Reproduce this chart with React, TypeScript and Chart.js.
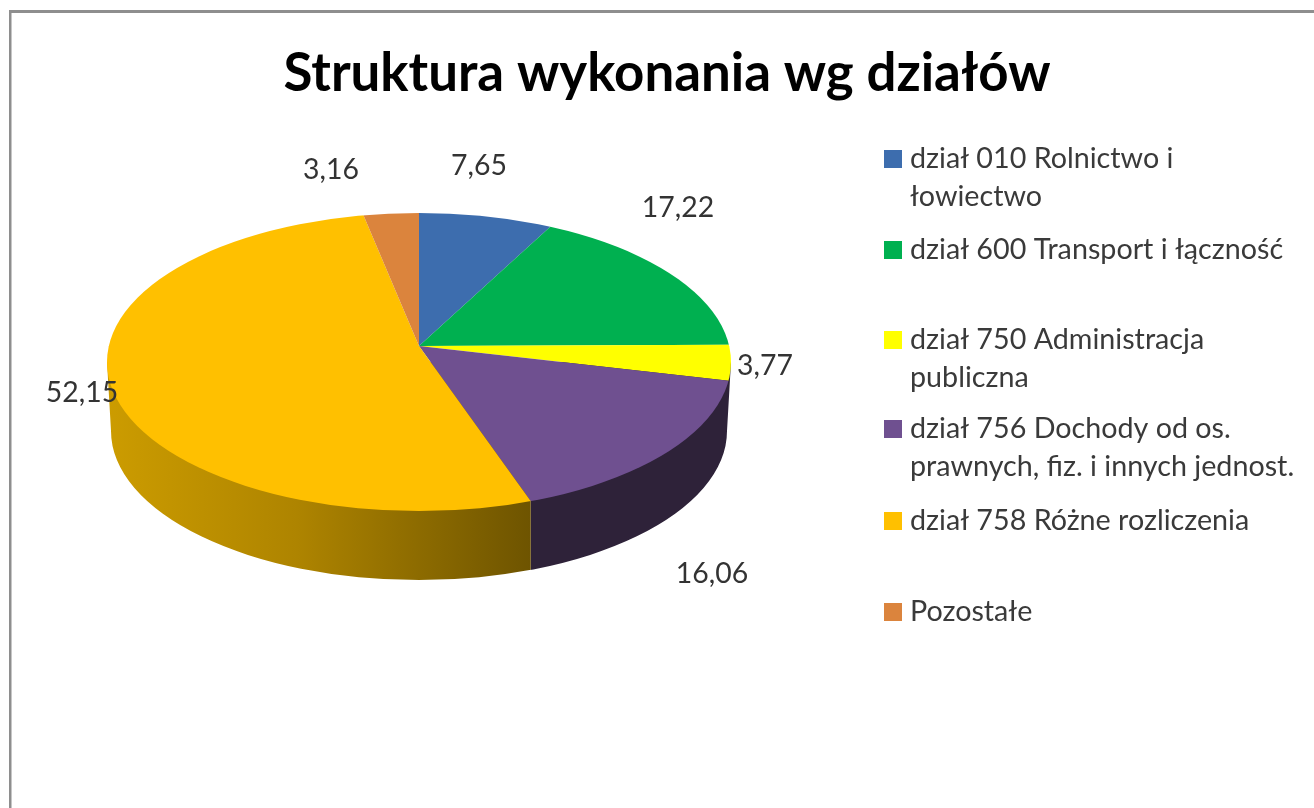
import React, { useEffect, useRef } from "react";
import { Chart, registerables } from "chart.js";

Chart.register(...registerables);

const titleText = "Struktura wykonania wg działów";
const categories = [
  ["dział 010 Rolnictwo i", "łowiectwo"],
  ["dział 600 Transport i łączność"],
  ["dział 750 Administracja", "publiczna"],
  ["dział 756 Dochody od os.", "prawnych, fiz. i innych jednost."],
  ["dział 758 Różne rozliczenia"],
  ["Pozostałe"],
];
const values = [7.65, 17.22, 3.77, 16.06, 52.15, 3.16];
const valueLabels = ["7,65", "17,22", "3,77", "16,06", "52,15", "3,16"];

const sliceColors = ["#3D6DAE", "#00B050", "#FFFF00", "#6F5090", "#FFC000", "#DB843D"];
const wallColors: (string | null)[] = [null, null, null, "#2E2239", "gradient", null];
const legendY = [159, 250, 340, 429, 521, 612];
const labelXY = [[479, 166], [678, 208], [765, 366], [712, 574], [82, 393], [331, 170]];

const W = 1314;
const H = 808;
const CX = 419;
const CY = 346;
const R = 312;
const FONT = "Lato, Carlito, sans-serif";
// outline of the perspective disc
const RIM = { cy: 362, rx: 312, ry: 149 };
const BASE = { cy: 431, rx: 308, ry: 149 };
const OVER = 1.2;
const UPPER = { sx: 0.9, sy: 133 / 312 };
const LOWER = { sx: 1.1, sy: 165 / 312 };

function boundaryX(angle: number) {
  const dx = R * LOWER.sx * Math.cos(angle);
  const dy = R * LOWER.sy * Math.sin(angle);
  const off = CY - RIM.cy;
  const a = (dx * dx) / (RIM.rx * RIM.rx) + (dy * dy) / (RIM.ry * RIM.ry);
  const b = (2 * dy * off) / (RIM.ry * RIM.ry);
  const c = (off * off) / (RIM.ry * RIM.ry) - 1;
  const t = (-b + Math.sqrt(b * b - 4 * a * c)) / (2 * a);
  return CX + dx * t;
}

const pie3d = {
  id: "pie3d",
  beforeDraw(chart: any) {
    const ctx = chart.ctx;
    ctx.save();
    ctx.fillStyle = "#fff";
    ctx.fillRect(0, 0, W, H);
    ctx.fillStyle = "#8E8E8E";
    ctx.fillRect(9, 10, W - 9, 3);
    ctx.fillRect(9, 10, 2.5, H - 10);
    ctx.restore();
  },
  beforeDatasetsDraw(chart: any) {
    const ctx = chart.ctx;
    const arcs = chart.getDatasetMeta(0).data;

    arcs.forEach((el: any, i: number) => {
      const shade = wallColors[i];
      if (!shade) return;
      const right = wallColors[i - 1] ? boundaryX(el.startAngle) : W;
      const left = wallColors[i + 1] ? boundaryX(el.endAngle) : 0;
      ctx.save();
      ctx.beginPath();
      ctx.rect(left, 0, right - left, H);
      ctx.clip();
      ctx.beginPath();
      ctx.moveTo(CX - RIM.rx, RIM.cy);
      ctx.lineTo(CX - BASE.rx, BASE.cy);
      ctx.ellipse(CX, BASE.cy, BASE.rx, BASE.ry, 0, Math.PI, 0, true);
      ctx.lineTo(CX + RIM.rx, RIM.cy);
      ctx.closePath();
      if (shade === "gradient") {
        const g = ctx.createLinearGradient(CX - RIM.rx, 0, right, 0);
        g.addColorStop(0, "#CC9C00");
        g.addColorStop(0.45, "#AE8400");
        g.addColorStop(1, "#6E5400");
        ctx.fillStyle = g;
      } else {
        ctx.fillStyle = shade;
      }
      ctx.fill();
      ctx.restore();
    });

    const drawHalf = (y0: number, h: number, m: { sx: number; sy: number }) => {
      ctx.save();
      ctx.beginPath();
      ctx.ellipse(CX, RIM.cy, RIM.rx, RIM.ry, 0, 0, Math.PI * 2);
      ctx.clip();
      ctx.beginPath();
      ctx.rect(0, y0, W, h);
      ctx.clip();
      ctx.translate(CX, CY);
      ctx.scale(m.sx * OVER, m.sy * OVER);
      ctx.translate(-CX, -CY);
      arcs.forEach((el: any) => el.draw(ctx));
      ctx.restore();
    };
    drawHalf(0, CY + 0.5, UPPER);
    drawHalf(CY, H - CY, LOWER);
    return false;
  },
  afterDraw(chart: any) {
    const ctx = chart.ctx;
    ctx.save();
    ctx.textBaseline = "middle";
    ctx.textAlign = "center";
    ctx.fillStyle = "#000";
    ctx.font = `bold 52.8px ${FONT}`;
    ctx.fillText(titleText, 667, 74);

    ctx.fillStyle = "#333";
    ctx.font = `28.4px ${FONT}`;
    valueLabels.forEach((t, i) => ctx.fillText(t, labelXY[i][0], labelXY[i][1]));

    ctx.textAlign = "left";
    ctx.font = `28.7px ${FONT}`;
    categories.forEach((lines, i) => {
      const y = legendY[i];
      ctx.fillStyle = sliceColors[i];
      ctx.fillRect(884, y - 9, 18, 18);
      ctx.fillStyle = "#3A3A3A";
      lines.forEach((line, k) => ctx.fillText(line, 910, y + k * 38));
    });
    ctx.restore();
  },
};

export default function App() {
  const ref = useRef<HTMLCanvasElement>(null);
  useEffect(() => {
    document.body.style.margin = "0";
    const chart = new Chart(ref.current!, {
      type: "pie",
      data: {
        labels: categories.map((c) => c.join(" ")),
        datasets: [{ data: values, backgroundColor: sliceColors, borderWidth: 0, hoverOffset: 0 }],
      },
      options: {
        responsive: false,
        animation: false,
        layout: { padding: { left: CX - R, right: W - CX - R, top: CY - R, bottom: H - CY - R } },
        plugins: { legend: { display: false }, title: { display: false }, tooltip: { enabled: false } },
      },
      plugins: [pie3d],
    } as any);
    return () => chart.destroy();
  }, []);
  return <canvas ref={ref} width={W} height={H} style={{ display: "block", filter: "blur(0.5px)" }} />;
}
